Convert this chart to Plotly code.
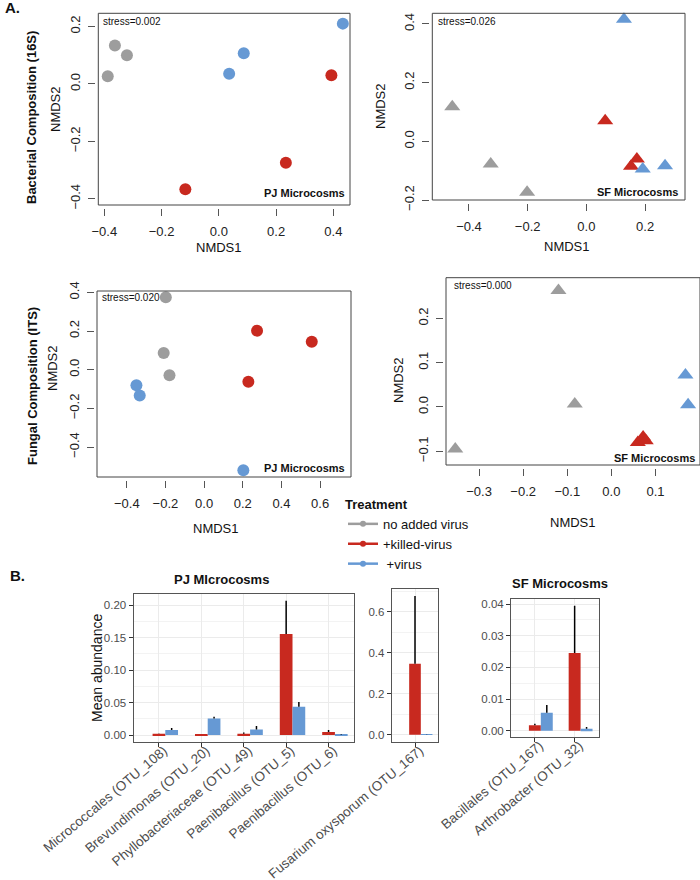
import plotly.graph_objects as go

W, H = 700, 880
def px(x):
    return x / W
def py(y):
    return 1 - y / H

GRAY = "#9D9D9D"
RED = "#C8291F"
BLUE = "#6699D4"
FONT = "Liberation Sans, Arial, Helvetica, sans-serif"

treatments = ["no added virus", "+killed-virus", " +virus"]
colors = [GRAY, RED, BLUE]

# ---------------- NMDS data ----------------
# Bacterial (16S), PJ microcosms
bac_pj_none_x = [-0.363, -0.321, -0.388]
bac_pj_none_y = [0.134, 0.100, 0.027]
bac_pj_killed_x = [0.393, 0.234, -0.117]
bac_pj_killed_y = [0.030, -0.275, -0.367]
bac_pj_virus_x = [0.036, 0.087, 0.433]
bac_pj_virus_y = [0.035, 0.107, 0.210]

# Bacterial (16S), SF microcosms
bac_sf_none_x = [-0.457, -0.326, -0.202]
bac_sf_none_y = [0.118, -0.077, -0.174]
bac_sf_killed_x = [0.064, 0.172, 0.152]
bac_sf_killed_y = [0.070, -0.060, -0.085]
bac_sf_virus_x = [0.128, 0.192, 0.268]
bac_sf_virus_y = [0.416, -0.094, -0.083]

# Fungal (ITS), PJ microcosms
fun_pj_none_x = [-0.198, -0.209, -0.179]
fun_pj_none_y = [0.375, 0.086, -0.029]
fun_pj_killed_x = [0.274, 0.557, 0.229]
fun_pj_killed_y = [0.202, 0.145, -0.062]
fun_pj_virus_x = [-0.350, -0.333, 0.203]
fun_pj_virus_y = [-0.081, -0.134, -0.520]

# Fungal (ITS), SF microcosms
fun_sf_none_x = [-0.120, -0.083, -0.354]
fun_sf_none_y = [0.263, 0.007, -0.095]
fun_sf_killed_x = [0.060, 0.072, 0.078]
fun_sf_killed_y = [-0.080, -0.068, -0.076]
fun_sf_virus_x = [0.168, 0.174]
fun_sf_virus_y = [0.072, 0.005]

stress_labels = ["stress=0.002", "stress=0.026", "stress=0.020", "stress=0.000"]

# ---------------- Bar data ----------------
pj_taxa = ["Micrococcales (OTU_108)", "Brevundimonas (OTU_20)",
           "Phyllobacteriaceae (OTU_49)", "Paenibacillus (OTU_5)",
           "Paenibacillus (OTU_6)"]
pj_none = [0, 0, 0, 0, 0]
pj_killed = [0.0020, 0.0003, 0.0018, 0.156, 0.0046]
pj_killed_se = [0.0005, 0.0002, 0.0020, 0.051, 0.0031]
pj_virus = [0.0077, 0.0256, 0.0087, 0.0436, 0.0006]
pj_virus_se = [0.0033, 0.0024, 0.0051, 0.0075, 0.0004]

fus_taxa = ["Fusarium oxysporum (OTU_167)"]
fus_none = [0]
fus_killed = [0.346]
fus_killed_se = [0.330]
fus_virus = [0.001]
fus_virus_se = [0.001]

sf_taxa = ["Bacillales (OTU_167)", "Arthrobacter (OTU_32)"]
sf_none = [0, 0]
sf_killed = [0.0017, 0.0245]
sf_killed_se = [0.0005, 0.0150]
sf_virus = [0.0057, 0.0006]
sf_virus_se = [0.0024, 0.0006]

fig = go.Figure()

# ---------------- NMDS panels ----------------
panels = [
    ("", (98.3, 350, 13.3, 205), [-0.421, 0.458], [-0.422, 0.246],
     [-0.4, -0.2, 0.0, 0.2, 0.4], [-0.4, -0.2, 0.0, 0.2], "circle",
     [(bac_pj_none_x, bac_pj_none_y), (bac_pj_killed_x, bac_pj_killed_y), (bac_pj_virus_x, bac_pj_virus_y)]),
    ("2", (432.3, 685, 13.3, 200), [-0.525, 0.336], [-0.2, 0.436],
     [-0.4, -0.2, 0.0, 0.2], [-0.2, 0.0, 0.2, 0.4], "triangle-up",
     [(bac_sf_none_x, bac_sf_none_y), (bac_sf_killed_x, bac_sf_killed_y), (bac_sf_virus_x, bac_sf_virus_y)]),
    ("3", (97, 351, 291, 477), [-0.554, 0.760], [-0.555, 0.407],
     [-0.4, -0.2, 0.0, 0.2, 0.4, 0.6], [-0.4, -0.2, 0.0, 0.2, 0.4], "circle",
     [(fun_pj_none_x, fun_pj_none_y), (fun_pj_killed_x, fun_pj_killed_y), (fun_pj_virus_x, fun_pj_virus_y)]),
    ("4", (446, 702, 277.7, 465), [-0.375, 0.201], [-0.131, 0.292],
     [-0.3, -0.2, -0.1, 0.0, 0.1], [-0.1, 0.0, 0.1, 0.2], "triangle-up",
     [(fun_sf_none_x, fun_sf_none_y), (fun_sf_killed_x, fun_sf_killed_y), (fun_sf_virus_x, fun_sf_virus_y)]),
]

layout_axes = {}
shapes = []
for suf, (l, r, t, b), xr, yr, xt, yt, sym, series in panels:
    xa = "x" + suf
    ya = "y" + suf
    for (sx, sy), c in zip(series, colors):
        fig.add_trace(go.Scatter(
            x=sx, y=sy, xaxis=xa, yaxis=ya, mode="markers", showlegend=False,
            cliponaxis=False, hoverinfo="skip",
            marker=dict(symbol=sym, color=c, size=12 if sym == "circle" else 14,
                        line=dict(width=0))))
    layout_axes["xaxis" + suf] = dict(
        domain=[px(l), min(px(r), 1.0)], range=xr, anchor="free", position=py(b + 3),
        automargin=False,
        showgrid=False, zeroline=False, showline=False,
        tickmode="array", tickvals=xt, tickformat=".1f",
        ticks="outside", ticklen=7, tickcolor="#555", tickwidth=1,
        ticklabelstandoff=4,
        tickfont=dict(size=13, color="#222", family=FONT))
    layout_axes["yaxis" + suf] = dict(
        domain=[py(b), py(t)], range=yr, anchor="free", position=px(l - 3),
        automargin=False,
        showgrid=False, zeroline=False, showline=False,
        tickmode="array", tickvals=yt, tickformat=".1f", tickangle=-90,
        ticks="outside", ticklen=7, tickcolor="#555", tickwidth=1,
        ticklabelstandoff=3,
        tickfont=dict(size=13, color="#222", family=FONT))
    shapes.append(dict(type="rect", xref=xa + " domain", yref=ya + " domain",
                       x0=0, x1=1, y0=0, y1=1, line=dict(color="#444", width=1)))

# ---------------- Bar panels ----------------
bar_panels = [
    ("5", (133.5, 354, 594, 741.7), pj_taxa, pj_none, pj_killed, pj_killed_se, pj_virus, pj_virus_se,
     [-0.0103, 0.2175], [0, 0.05, 0.10, 0.15, 0.20], ".2f", 0.025),
    ("6", (391.7, 438.3, 589, 741.7), fus_taxa, fus_none, fus_killed, fus_killed_se, fus_virus, fus_virus_se,
     [-0.034, 0.710], [0, 0.2, 0.4, 0.6], ".1f", 0.1),
    ("7", (511, 598.5, 599.3, 736.7), sf_taxa, sf_none, sf_killed, sf_killed_se, sf_virus, sf_virus_se,
     [-0.0019, 0.0415], [0, 0.01, 0.02, 0.03, 0.04], ".2f", 0.005),
]

for suf, (l, r, t, b), taxa, v0, v1, e1, v2, e2, yr, yt, fmt, minor in bar_panels:
    xa = "x" + suf
    ya = "y" + suf
    fig.add_trace(go.Bar(x=taxa, y=v0, xaxis=xa, yaxis=ya, marker=dict(color=GRAY, line=dict(width=0)),
                         showlegend=False, hoverinfo="skip"))
    for vals, errs, c in [(v1, e1, RED), (v2, e2, BLUE)]:
        fig.add_trace(go.Bar(
            x=taxa, y=vals, xaxis=xa, yaxis=ya, showlegend=False, hoverinfo="skip",
            marker=dict(color=c, line=dict(width=0)),
            error_y=dict(type="data", array=errs, arrayminus=[0] * len(errs),
                         symmetric=False, color="black", thickness=1.5, width=0)))
    layout_axes["xaxis" + suf] = dict(
        domain=[px(l), px(r)], anchor=ya, type="category",
        range=[-0.6, len(taxa) - 0.4], automargin=False,
        showgrid=True, gridcolor="#EBEBEB", gridwidth=1, zeroline=False,
        showline=True, mirror=True, linecolor="#555", linewidth=1,
        ticks="outside", ticklen=4, tickcolor="#333", tickangle=-40,
        ticklabelstandoff=-9, ticklabelshift=5,
        tickfont=dict(size=13.5, color="#4D4D4D", family=FONT))
    layout_axes["yaxis" + suf] = dict(
        domain=[py(b), py(t)], anchor=xa, range=yr, automargin=False,
        tickmode="array", tickvals=yt, tickformat=fmt,
        showgrid=True, gridcolor="#EBEBEB", gridwidth=1, zeroline=False,
        minor=dict(dtick=minor, showgrid=True, gridcolor="#F3F3F3", gridwidth=0.6),
        showline=True, mirror=True, linecolor="#555", linewidth=1,
        ticks="outside", ticklen=4, tickcolor="#333",
        tickfont=dict(size=11.5, color="#4D4D4D", family=FONT))

# ---------------- Legend entries ----------------
for name, c in zip(treatments, colors):
    fig.add_trace(go.Scatter(x=[None], y=[None], mode="lines+markers", name=name,
                             line=dict(color=c, width=2.5), marker=dict(color=c, size=6)))

# ---------------- Annotations ----------------
ann = []
def text(x, y, s, size=13, bold=False, angle=0, xanchor="center", color="#111"):
    ann.append(dict(x=px(x), y=py(y), xref="paper", yref="paper", showarrow=False,
                    text=("<b>%s</b>" % s) if bold else s, textangle=angle,
                    xanchor=xanchor, yanchor="middle",
                    font=dict(size=size, color=color, family=FONT)))

text(3, 8, "A.", 15, True, xanchor="left")
text(8, 575, "B.", 15, True, xanchor="left")
text(32, 118, "Bacterial Composition (16S)", 13, True, -90)
text(32, 386, "Fungal Composition (ITS)", 13, True, -90)
text(55, 109, "NMDS2", 13, angle=-90)
text(380, 106, "NMDS2", 13, angle=-90)
text(52, 368, "NMDS2", 13, angle=-90)
text(398, 380, "NMDS2", 13, angle=-90)
text(219, 248, "NMDS1", 13)
text(567, 246, "NMDS1", 13)
text(216, 528, "NMDS1", 13)
text(573, 522, "NMDS1", 13)
text(101, 21, stress_labels[0], 10, xanchor="left")
text(436, 21, stress_labels[1], 10, xanchor="left")
text(100, 297, stress_labels[2], 10, xanchor="left")
text(452, 286, stress_labels[3], 10, xanchor="left")
text(347, 193, "PJ Microcosms", 11, True, xanchor="right")
text(680, 192, "SF Microcosms", 11, True, xanchor="right")
text(347, 468, "PJ Microcosms", 11, True, xanchor="right")
text(697, 458, "SF Microcosms", 11, True, xanchor="right")
text(221, 579, "PJ MIcrocosms", 13, True)
text(560, 583, "SF Microcosms", 13, True)
text(97, 668, "Mean abundance", 14, angle=-90)

fig.update_layout(
    template="none",
    width=W, height=H, margin=dict(l=0, r=0, t=0, b=0, autoexpand=False),
    paper_bgcolor="white", plot_bgcolor="rgba(0,0,0,0)",
    barmode="group", bargap=0.1, bargroupgap=0,
    font=dict(family=FONT, color="#111"),
    showlegend=True, hovermode=False,
    legend=dict(x=px(343), y=py(492), xanchor="left", yanchor="top",
                title=dict(text="<b>Treatment</b>", font=dict(size=13, family=FONT)),
                font=dict(size=13, family=FONT, color="#111"),
                bgcolor="rgba(0,0,0,0)", borderwidth=0, tracegroupgap=0, itemwidth=30),
    annotations=ann, shapes=shapes,
    **layout_axes,
)

fig.write_html("out.html", config={"displayModeBar": False},
               post_script="document.body.style.margin='0px';document.body.style.padding='0px';")
